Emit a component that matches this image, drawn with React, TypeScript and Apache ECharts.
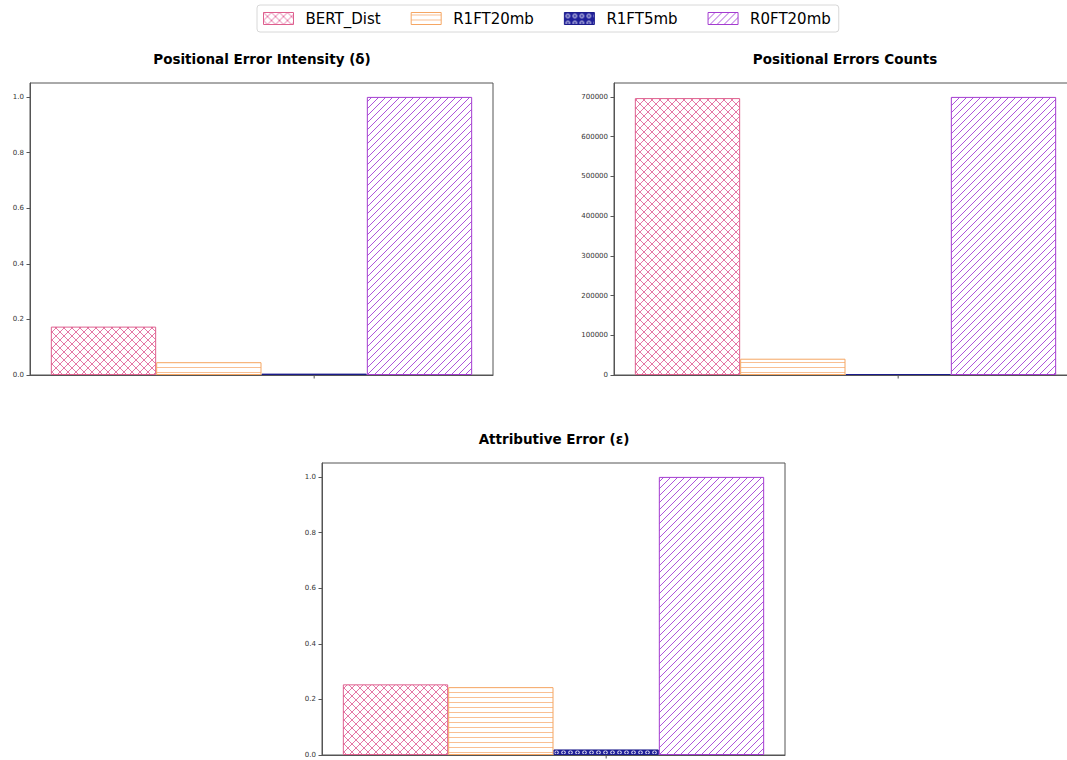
import React, { useEffect, useRef } from "react";
import * as echarts from "echarts";

const modelNames = ["BERT_Dist", "R1FT20mb", "R1FT5mb", "R0FT20mb"];
const categories = [""];
const intensityValues = [0.174, 0.046, 0.005, 1.0];
const countValues = [697000, 41000, 2500, 700000];
const attributiveValues = [0.254, 0.244, 0.02, 1.0];
const panelTitles = ["Positional Error Intensity (δ)", "Positional Errors Counts", "Attributive Error (ε)"];

const edgeColors = ["#de5f8e", "#f5a663", "#1c1c8c", "#a43cd0"];
const hatchColors = ["#e578a6", "#f9bf92", "#20209a", "#ad55da"];
const hatchKinds = ["xx", "--", "oo", "//"];

function makeHatch(kind: string, color: string) {
  const c = document.createElement("canvas");
  let w = 8, h = 8;
  if (kind === "//") { w = 7; h = 7; }
  if (kind === "--") { w = 6; h = 5; }
  if (kind === "oo") { w = 7; h = 7; }
  c.width = w; c.height = h;
  const ctx = c.getContext("2d")!;
  ctx.fillStyle = "#ffffff";
  ctx.fillRect(0, 0, w, h);
  ctx.strokeStyle = color;
  ctx.lineWidth = 1;
  if (kind === "xx") {
    ctx.beginPath();
    ctx.moveTo(-1, -1); ctx.lineTo(w + 1, h + 1);
    ctx.moveTo(-1, h + 1); ctx.lineTo(w + 1, -1);
    ctx.stroke();
  } else if (kind === "//") {
    ctx.beginPath();
    ctx.moveTo(-1, h + 1); ctx.lineTo(w + 1, -1);
    ctx.moveTo(-w - 1, h + 1); ctx.lineTo(1, -1);
    ctx.moveTo(w - 1, h + 1); ctx.lineTo(2 * w + 1, -1);
    ctx.stroke();
  } else if (kind === "--") {
    ctx.beginPath();
    ctx.moveTo(0, 2.5); ctx.lineTo(w, 2.5);
    ctx.stroke();
  } else if (kind === "oo") {
    ctx.fillStyle = color;
    ctx.fillRect(0, 0, w, h);
    ctx.strokeStyle = "#ffffff";
    ctx.beginPath();
    ctx.arc(3.5, 3.5, 1.8, 0, Math.PI * 2);
    ctx.stroke();
  }
  return { image: c, repeat: "repeat", imageWidth: w, imageHeight: h };
}

export default function App() {
  const ref = useRef<HTMLDivElement>(null);
  useEffect(() => {
    if (!ref.current) return;
    const chart = echarts.init(ref.current, undefined, { renderer: "svg" });
    const patterns = hatchKinds.map((k, i) => makeHatch(k, hatchColors[i]));
    const gridW = 463, gridH = 292, catGap = 0.09;
    const panels = [
      { values: intensityValues, left: 30, top: 83, max: 1.05, interval: 0.2, fmt: (v: number) => v.toFixed(1) },
      { values: countValues, left: 614, top: 83, max: 735000, interval: 100000, fmt: (v: number) => String(v) },
      { values: attributiveValues, left: 322, top: 463, max: 1.05, interval: 0.2, fmt: (v: number) => v.toFixed(1) },
    ];
    const titleCenters = [[262, 52], [845, 52], [554, 432]];
    const font = "DejaVu Sans";
    const series: any[] = [];
    panels.forEach((p, pi) => {
      modelNames.forEach((name, mi) => {
        series.push({
          type: "bar",
          name,
          xAxisIndex: pi,
          yAxisIndex: pi,
          data: [p.values[mi]],
          barGap: "0%",
          barCategoryGap: "9%",
          itemStyle: {
            color: patterns[mi],
            borderColor: edgeColors[mi],
            borderWidth: 1,
          },
          emphasis: { disabled: true },
        });
      });
    });
    // matplotlib puts the single x tick at the centre of the third bar
    const tickFrac = catGap / 2 + (1 - catGap) * (2.5 / modelNames.length);
    const tickGraphics = panels.map((p) => ({
      type: "line",
      shape: {
        x1: p.left + gridW * tickFrac,
        y1: p.top + gridH,
        x2: p.left + gridW * tickFrac,
        y2: p.top + gridH + 3.5,
      },
      style: { stroke: "#555", lineWidth: 1 },
      silent: true,
    }));
    chart.setOption({
      animation: false,
      textStyle: { fontFamily: font },
      title: panelTitles.map((t, i) => ({
        text: t,
        left: titleCenters[i][0],
        top: titleCenters[i][1],
        textAlign: "center",
        padding: 0,
        textStyle: { fontSize: 13.5, fontWeight: "bold", color: "#000", fontFamily: font },
      })),
      legend: {
        data: modelNames.map((n) => ({ name: n, icon: "rect" })),
        top: 5,
        left: 257,
        itemWidth: 30,
        itemHeight: 12,
        itemGap: 30,
        padding: [6, 8, 6, 6],
        borderColor: "#d8d8d8",
        borderWidth: 1,
        borderRadius: 3,
        selectedMode: false,
        itemStyle: { borderWidth: 1 },
        textStyle: { fontSize: 15, color: "#000", fontFamily: font, padding: [0, 0, 0, 7] },
      },
      grid: panels.map((p) => ({
        left: p.left,
        top: p.top,
        width: gridW,
        height: gridH,
        show: true,
        borderColor: "#555",
        borderWidth: 1,
        backgroundColor: "transparent",
        containLabel: false,
      })),
      xAxis: panels.map((_, i) => ({
        type: "category",
        gridIndex: i,
        data: categories,
        axisLine: { show: true, lineStyle: { color: "#555", width: 1 } },
        axisTick: { show: false },
        axisLabel: { show: false },
        splitLine: { show: false },
      })),
      yAxis: panels.map((p, i) => ({
        type: "value",
        gridIndex: i,
        min: 0,
        max: p.max,
        interval: p.interval,
        axisLine: { show: true, lineStyle: { color: "#555", width: 1 } },
        axisTick: { show: true, length: 3.5, lineStyle: { color: "#555" } },
        axisLabel: {
          show: true,
          fontSize: 7,
          color: "#333",
          margin: 6,
          fontFamily: font,
          showMaxLabel: false,
          formatter: p.fmt,
        },
        splitLine: { show: false },
      })),
      graphic: tickGraphics,
      series,
    });
    return () => chart.dispose();
  }, []);
  return (
    <div style={{ position: "absolute", left: 0, top: 0, width: 1067, height: 760, overflow: "hidden", background: "#fff" }}>
      <div ref={ref} style={{ width: 1090, height: 760 }} />
    </div>
  );
}
